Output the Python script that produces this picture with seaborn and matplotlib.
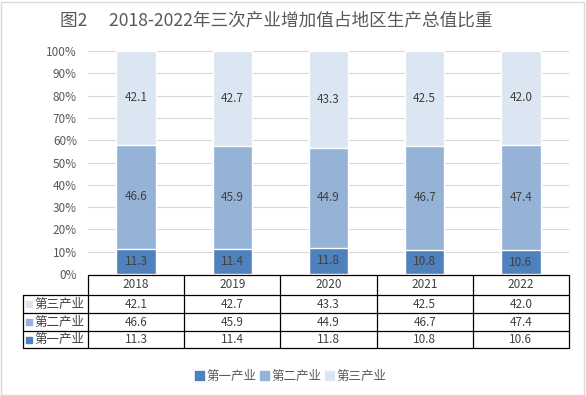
import matplotlib
matplotlib.use("Agg")
import matplotlib.pyplot as plt
import seaborn as sns
import pandas as pd
import numpy as np
from matplotlib.patches import Rectangle

years = ["2018", "2019", "2020", "2021", "2022"]
primary = [11.3, 11.4, 11.8, 10.8, 10.6]
secondary = [46.6, 45.9, 44.9, 46.7, 47.4]
tertiary = [42.1, 42.7, 43.3, 42.5, 42.0]
series_names = ["第一产业", "第二产业", "第三产业"]
colors = ["#4F81BD", "#95B3D7", "#DCE6F2"]
title = "图2　 2018-2022年三次产业增加值占地区生产总值比重"

sns.set_theme(style="white")
plt.rcParams["font.family"] = ["Noto Sans CJK SC", "DejaVu Sans"]

df = pd.DataFrame({"year": years, "p": primary, "s": secondary, "t": tertiary})
df["ps"] = df["p"] + df["s"]
df["pst"] = df["ps"] + df["t"]

fig = plt.figure(figsize=(5.86, 3.96), dpi=100)
ax = fig.add_axes([88 / 586, 122 / 396, 481 / 586, 223 / 396])

bw = 0.41
sns.barplot(data=df, x="year", y="pst", color=colors[2], saturation=1, width=bw, ax=ax, zorder=3)
sns.barplot(data=df, x="year", y="ps", color=colors[1], saturation=1, width=bw, ax=ax, zorder=3)
sns.barplot(data=df, x="year", y="p", color=colors[0], saturation=1, width=bw, ax=ax, zorder=3)

txtc = "#404040"
for i in range(len(years)):
    ax.text(i, primary[i] / 2, f"{primary[i]:.1f}", ha="center", va="center", fontsize=8.5, color=txtc, zorder=4)
    ax.text(i, primary[i] + secondary[i] / 2, f"{secondary[i]:.1f}", ha="center", va="center", fontsize=8.5, color=txtc, zorder=4)
    ax.text(i, primary[i] + secondary[i] + tertiary[i] / 2, f"{tertiary[i]:.1f}", ha="center", va="center", fontsize=8.5, color=txtc, zorder=4)

ax.set_ylim(0, 100)
ax.set_xlim(-0.5, 4.5)
ax.set_yticks(np.arange(0, 101, 10))
ax.set_yticklabels([f"{v}%" for v in range(0, 101, 10)], fontsize=8.5, color="#595959")
ax.tick_params(axis="y", length=0, pad=8)
ax.set_xticks([])
ax.set_xlabel("")
ax.set_ylabel("")
ax.grid(axis="y", color="#D9D9D9", linewidth=0.8, zorder=0)
for s in ax.spines.values():
    s.set_visible(False)

# data table (figure pixel coords)
W, H = 586, 396
def fx(px): return px / W
def fy(py): return 1 - py / H

lc = "black"
lw = 0.9
col_edges = [88 + k * 96.2 for k in range(6)]
row_edges = [275, 295, 313, 331, 348]
tx_left = 23
for k, r in enumerate(row_edges):
    x0 = col_edges[0] if k == 0 else tx_left
    fig.add_artist(plt.Line2D([fx(x0), fx(col_edges[-1])], [fy(r), fy(r)], color=lc, lw=lw))
for c in col_edges:
    fig.add_artist(plt.Line2D([fx(c), fx(c)], [fy(row_edges[0]), fy(row_edges[-1])], color=lc, lw=lw))
fig.add_artist(plt.Line2D([fx(tx_left), fx(tx_left)], [fy(row_edges[1]), fy(row_edges[-1])], color=lc, lw=lw))

rows = [("第三产业", tertiary, colors[2]), ("第二产业", secondary, colors[1]), ("第一产业", primary, colors[0])]
for j, y in enumerate(years):
    cx = (col_edges[j] + col_edges[j + 1]) / 2
    cy = (row_edges[0] + row_edges[1]) / 2
    fig.text(fx(cx), fy(cy), y, ha="center", va="center", fontsize=8.5, color=txtc)
for r, (name, vals, col) in enumerate(rows):
    cy = (row_edges[r + 1] + row_edges[r + 2]) / 2
    fig.add_artist(Rectangle((fx(26), fy(cy + 3)), 6 / W, 6 / H, color=col, transform=fig.transFigure))
    fig.text(fx(34), fy(cy), name, ha="left", va="center", fontsize=9, color=txtc)
    for j in range(len(years)):
        cx = (col_edges[j] + col_edges[j + 1]) / 2
        fig.text(fx(cx), fy(cy), f"{vals[j]:.1f}", ha="center", va="center", fontsize=8.5, color=txtc)

handles = [Rectangle((0, 0), 1, 1, color=c) for c in colors]
fig.legend(handles, series_names, loc="center", bbox_to_anchor=(291 / W, fy(376)), ncol=3, frameon=False,
           fontsize=9, handlelength=0.7, handleheight=0.7, handletextpad=0.2, columnspacing=0.3,
           labelcolor="#595959")

fig.text(fx(60), fy(21), title, ha="left", va="center", fontsize=12.7, color="#595959")

fig.add_artist(Rectangle((1 / W, 1 / H), (W - 3) / W, (H - 3) / H, fill=False, edgecolor="#D9D9D9", lw=1,
                         transform=fig.transFigure))

fig.savefig("out.png", dpi=100)
